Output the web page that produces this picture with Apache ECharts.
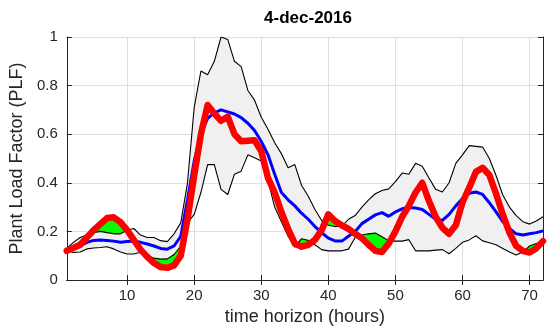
<!DOCTYPE html>
<html>
<head>
<meta charset="utf-8">
<script src="https://cdn.jsdelivr.net/npm/echarts@6/dist/echarts.min.js"></script>
<style>
  html, body { margin: 0; padding: 0; background: #fff; }
  #chart { width: 550px; height: 331px; }
</style>
</head>
<body>
<div id="chart"></div>
<script>
// hours 1..72
const hours = [1, 2, 3, 4, 5, 6, 7, 8, 9, 10, 11, 12, 13, 14, 15, 16, 17, 18, 19, 20, 21, 22, 23, 24,
  25, 26, 27, 28, 29, 30, 31, 32, 33, 34, 35, 36, 37, 38, 39, 40, 41, 42, 43, 44, 45, 46, 47, 48,
  49, 50, 51, 52, 53, 54, 55, 56, 57, 58, 59, 60, 61, 62, 63, 64, 65, 66, 67, 68, 69, 70, 71, 72];

// band upper / lower bounds
const upper = [0.13, 0.155, 0.175, 0.185, 0.195, 0.2, 0.195, 0.19, 0.19, 0.205, 0.212, 0.185,
  0.175, 0.175, 0.162, 0.158, 0.19, 0.235, 0.4, 0.71, 0.86, 0.845, 0.9, 1.0,
  0.99, 0.9, 0.878, 0.78, 0.74, 0.67, 0.62, 0.565, 0.52, 0.462, 0.475, 0.39,
  0.345, 0.29, 0.245, 0.225, 0.22, 0.22, 0.25, 0.265, 0.3, 0.33, 0.355, 0.368,
  0.375, 0.405, 0.44, 0.435, 0.48, 0.468, 0.42, 0.373, 0.362, 0.4, 0.48, 0.515,
  0.553, 0.55, 0.547, 0.5, 0.43, 0.35, 0.3, 0.265, 0.24, 0.23, 0.243, 0.26];

const lower = [0.12, 0.113, 0.115, 0.128, 0.132, 0.134, 0.137, 0.128, 0.115, 0.107, 0.107, 0.114,
  0.1, 0.09, 0.086, 0.087, 0.105, 0.14, 0.235, 0.27, 0.36, 0.475, 0.475, 0.373,
  0.352, 0.435, 0.448, 0.515, 0.503, 0.49, 0.41, 0.3, 0.24, 0.18, 0.135, 0.17,
  0.163, 0.145, 0.125, 0.12, 0.12, 0.12, 0.127, 0.175, 0.185, 0.19, 0.193, 0.178,
  0.162, 0.16, 0.16, 0.166, 0.12, 0.12, 0.12, 0.123, 0.125, 0.108, 0.13, 0.155,
  0.165, 0.182, 0.161, 0.153, 0.145, 0.13, 0.115, 0.103, 0.115, 0.14, 0.15, 0.158];

// blue (mean forecast)
const mean = [0.12, 0.128, 0.14, 0.155, 0.163, 0.165, 0.163, 0.16, 0.155, 0.158, 0.16, 0.155,
  0.148, 0.14, 0.13, 0.127, 0.14, 0.18, 0.33, 0.49, 0.6, 0.665, 0.688, 0.7,
  0.692, 0.683, 0.668, 0.645, 0.615, 0.57, 0.515, 0.435, 0.36, 0.33, 0.305, 0.275,
  0.25, 0.22, 0.195, 0.172, 0.161, 0.16, 0.18, 0.2, 0.232, 0.25, 0.268, 0.277,
  0.262, 0.28, 0.293, 0.298, 0.296, 0.29, 0.27, 0.25, 0.245, 0.27, 0.305, 0.335,
  0.357, 0.362, 0.352, 0.318, 0.28, 0.24, 0.212, 0.19, 0.185, 0.19, 0.195, 0.202];

// red (actual)
const actual = [0.12, 0.132, 0.145, 0.175, 0.205, 0.23, 0.255, 0.258, 0.238, 0.205, 0.165, 0.125,
  0.095, 0.07, 0.053, 0.05, 0.06, 0.1, 0.25, 0.43, 0.6, 0.72, 0.685, 0.655,
  0.672, 0.6, 0.571, 0.573, 0.575, 0.53, 0.42, 0.36, 0.28, 0.21, 0.15, 0.137,
  0.145, 0.165, 0.205, 0.27, 0.243, 0.225, 0.21, 0.19, 0.172, 0.145, 0.12, 0.115,
  0.15, 0.2, 0.26, 0.305, 0.36, 0.4, 0.325, 0.26, 0.215, 0.19, 0.225, 0.32,
  0.38, 0.445, 0.462, 0.432, 0.355, 0.27, 0.195, 0.14, 0.12, 0.113, 0.13, 0.16];

const yTicks = ['0', '0.2', '0.4', '0.6', '0.8', '1'];

const FONT = '"Liberation Sans", Arial, Helvetica, sans-serif';

const bandWidth = upper.map((u, i) => u - lower[i]);
const belowBase = actual.map((a, i) => Math.min(a, lower[i]));
const belowFill = lower.map((l, i) => l - belowBase[i]);
const aboveFill = actual.map((a, i) => Math.max(a - upper[i], 0));

const everyTen = (idx, val) => Number(val) % 10 === 0;
const hidden = { opacity: 0, width: 0 };

const chart = echarts.init(document.getElementById('chart'));

const xBase = {
  type: 'category',
  data: hours,
  boundaryGap: false,
  axisLine: { show: true, lineStyle: { color: '#262626', width: 1 } },
  axisTick: { show: true, inside: true, length: 5, interval: everyTen, lineStyle: { color: '#262626' } },
};
const yBase = {
  type: 'value',
  min: 0,
  max: 1,
  interval: 0.2,
  axisLine: { show: true, lineStyle: { color: '#262626', width: 1 } },
  axisTick: { show: true, inside: true, length: 5, lineStyle: { color: '#262626' } },
};

const option = {
  animation: false,
  title: {
    text: '4-dec-2016',
    left: 303,
    top: 5,
    textAlign: 'center',
    textStyle: { fontFamily: FONT, fontSize: 17, fontWeight: 'bold', color: '#000' },
  },
  grid: { left: 64, right: 7, top: 37, bottom: 50 },
  xAxis: [
    Object.assign({}, xBase, {
      position: 'bottom',
      name: 'time horizon (hours)',
      nameLocation: 'middle',
      nameGap: 28,
      nameTextStyle: { fontFamily: FONT, fontSize: 18, color: '#262626' },
      axisLabel: { interval: everyTen, margin: 8, fontFamily: FONT, fontSize: 15, color: '#262626' },
      splitLine: { show: true, interval: everyTen, lineStyle: { color: '#dfdfdf', width: 1 } },
    }),
    Object.assign({}, xBase, {
      position: 'top',
      axisLabel: { show: false },
      splitLine: { show: false },
    }),
  ],
  yAxis: [
    Object.assign({}, yBase, {
      position: 'left',
      name: 'Plant Load Factor (PLF)',
      nameLocation: 'middle',
      nameGap: 36,
      nameTextStyle: { fontFamily: FONT, fontSize: 18, color: '#262626' },
      axisLabel: {
        margin: 9, fontFamily: FONT, fontSize: 15, color: '#262626',
        formatter: (v) => yTicks[Math.round(v / 0.2)],
      },
      splitLine: { show: true, lineStyle: { color: '#dfdfdf', width: 1 } },
    }),
    Object.assign({}, yBase, {
      position: 'right',
      axisLabel: { show: false },
      splitLine: { show: false },
    }),
  ],
  series: [
    // grey band between lower and upper
    { type: 'line', stack: 'band', data: lower, symbol: 'none', lineStyle: hidden, silent: true },
    { type: 'line', stack: 'band', data: bandWidth, symbol: 'none', lineStyle: hidden, silent: true,
      areaStyle: { color: '#f0f0f0', opacity: 1 } },
    // green where actual is below the band
    { type: 'line', stack: 'below', data: belowBase, symbol: 'none', lineStyle: hidden, silent: true },
    { type: 'line', stack: 'below', data: belowFill, symbol: 'none', lineStyle: hidden, silent: true,
      areaStyle: { color: '#00ff00', opacity: 1 } },
    // green where actual is above the band
    { type: 'line', stack: 'above', data: upper, symbol: 'none', lineStyle: hidden, silent: true },
    { type: 'line', stack: 'above', data: aboveFill, symbol: 'none', lineStyle: hidden, silent: true,
      areaStyle: { color: '#00ff00', opacity: 1 } },
    // band edges
    { type: 'line', data: upper, symbol: 'none', silent: true, lineStyle: { color: '#000', width: 1.1 } },
    { type: 'line', data: lower, symbol: 'none', silent: true, lineStyle: { color: '#000', width: 1.1 } },
    // mean
    { type: 'line', data: mean, symbol: 'none', silent: true, lineStyle: { color: '#0000ff', width: 3 } },
    // actual
    { type: 'line', data: actual, symbol: 'none', silent: true,
      lineStyle: { color: '#ff0000', width: 6.5, cap: 'round', join: 'round' } },
  ],
};

chart.setOption(option);
</script>
</body>
</html>
